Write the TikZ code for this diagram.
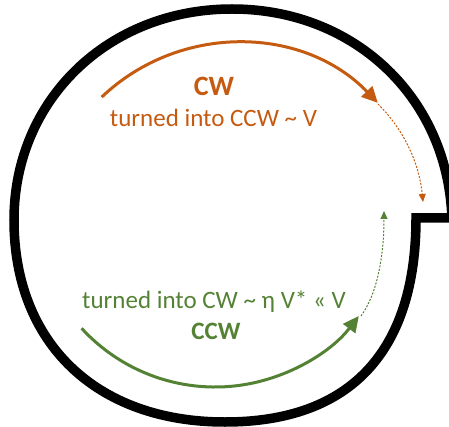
\documentclass[tikz,border=0pt]{standalone}
\usepackage{fontspec}
\setmainfont{Carlito}
\usetikzlibrary{arrows.meta}
\definecolor{cwOrange}{HTML}{C55A11}
\definecolor{ccwGreen}{HTML}{548235}
\begin{document}
\begin{tikzpicture}[x=1pt,y=-1pt,
  wall/.style={line width=9.5pt, line join=miter, miter limit=10},
  flow/.style={line width=3pt, -{Triangle[length=16pt,width=15pt]}},
  trace/.style={line width=1pt, dash pattern=on 2pt off 1.5pt, -{Triangle[length=8pt,width=7pt]}},
  lbl/.style={inner sep=0pt, anchor=base},
  big/.style={font=\fontsize{28}{32}\selectfont\bfseries},
  mid/.style={font=\fontsize{25}{30}\selectfont},
]
\useasboundingbox (0,0) rectangle (449,427);
\clip (0,0) rectangle (449,427);

% outer wall: spiral-like loop with an opening on the right
\draw[wall] (455,218) -- (416,218)
  .. controls (416,351) and (351,422) .. (225,422)
  .. controls (96,422) and (14,343) .. (14,220)
  .. controls (14,100) and (108,9) .. (232,9)
  .. controls (356,9) and (450,100) .. (452,222);

% end points of the flows
\coordinate (cwStart) at (101.7,97.1);
\coordinate (cwTip) at (378,104);
\coordinate (cwEnd) at (423,202);
\coordinate (ccwStart) at (81.6,328.3);
\coordinate (ccwTip) at (361,316);
\coordinate (ccwEnd) at (384,211);

% dashed continuations
\draw[trace, cwOrange] (cwTip) .. controls (406,132) and (419.5,166) .. (cwEnd);
\draw[trace, ccwGreen] (ccwTip) .. controls (380,290) and (384,246) .. (ccwEnd);

% main flow arrows
\draw[flow, cwOrange] (cwStart) arc[start angle=-133.6, end angle=-44, radius=196];
\draw[flow, ccwGreen] (ccwStart) arc[start angle=137.5, end angle=37.4, radius=181];

% labels
\node[lbl, big, text=cwOrange] (cwTitle) at (214,96) {CW};
\node[lbl, mid, text=cwOrange] (cwNote) at (213.5,127) {turned into CCW \textasciitilde{} V};
\node[lbl, mid, text=ccwGreen] (ccwNote) at (214,308) {turned into CW \textasciitilde{} η V* « V};
\node[lbl, mid, text=ccwGreen, font=\fontsize{25}{30}\selectfont\bfseries] (ccwTitle) at (216,339) {CCW};
\end{tikzpicture}
\end{document}
